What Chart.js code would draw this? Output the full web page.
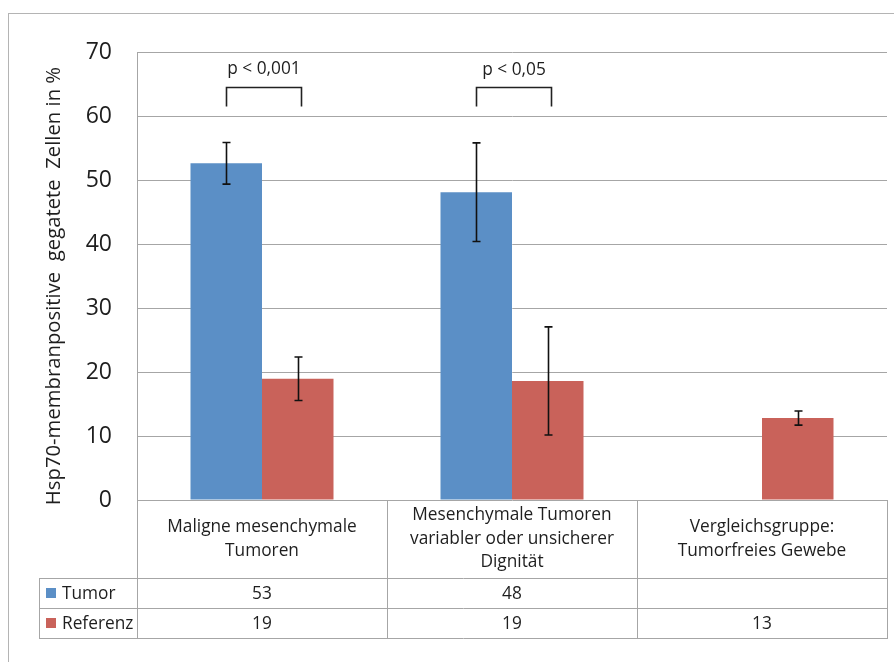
<!DOCTYPE html>
<html>
<head>
<meta charset="utf-8">
<script src="https://cdn.jsdelivr.net/npm/chart.js@4/dist/chart.umd.min.js"></script>
<style>
  html, body { margin: 0; padding: 0; background: #ffffff; }
  canvas { display: block; }
</style>
</head>
<body>
<canvas id="chart" width="894" height="662"></canvas>
<script>
// Categories (multi-line labels shown in the data table under the plot)
const categories = [
  ["Maligne mesenchymale", "Tumoren"],
  ["Mesenchymale Tumoren", "variabler oder unsicherer", "Dignität"],
  ["Vergleichsgruppe:", "Tumorfreies Gewebe"]
];

// Series: mean percentage of Hsp70 membrane-positive cells and their error margins
const tumorValues = [52.6, 48.1, null];
const tumorErrors = [3.25, 7.7, null];
const referenzValues = [18.95, 18.6, 12.8];
const referenzErrors = [3.4, 8.45, 1.1];

const seriesNames = ["Tumor", "Referenz"];
const yTicks = [0, 10, 20, 30, 40, 50, 60, 70];
const yTitle = "Hsp70-membranpositive  gegatete  Zellen in %";

// Significance brackets (between Tumor and Referenz of a category), in data units
const significance = [
  { category: 0, label: "p < 0,001", top: 64.5, foot: 61.5, text: 67.3 },
  { category: 1, label: "p < 0,05",  top: 64.5, foot: 61.5, text: 67.1 }
];

const FONT = "'Open Sans', sans-serif";
const TEXT_COLOR = "#1e1e1e";
const LINE_COLOR = "#a6a6a6";
const BLUE = "#5b8fc6";
const RED = "#c9625a";

// White page with the light grey chart frame
const framePlugin = {
  id: "frame",
  beforeDraw(chart) {
    const ctx = chart.ctx;
    ctx.save();
    ctx.fillStyle = "#ffffff";
    ctx.fillRect(0, 0, chart.width, chart.height);
    ctx.strokeStyle = "#b4b4b4";
    ctx.lineWidth = 1;
    ctx.strokeRect(8.5, 13.5, chart.width + 20, chart.height + 20);
    ctx.restore();
  }
};

// Error bars with caps, drawn at each bar centre
const errorBarPlugin = {
  id: "errorBars",
  afterDatasetsDraw(chart) {
    const ctx = chart.ctx;
    const y = chart.scales.y;
    const errs = [tumorErrors, referenzErrors];
    ctx.save();
    ctx.strokeStyle = "#111111";
    ctx.lineWidth = 1.6;
    chart.data.datasets.forEach((ds, i) => {
      const meta = chart.getDatasetMeta(i);
      ds.data.forEach((v, j) => {
        const e = errs[i][j];
        if (v == null || e == null) return;
        const x = Math.round(meta.data[j].x) + 0.5;
        const yt = y.getPixelForValue(v + e);
        const yb = y.getPixelForValue(v - e);
        ctx.beginPath();
        ctx.moveTo(x, yt); ctx.lineTo(x, yb);
        ctx.moveTo(x - 4, yt); ctx.lineTo(x + 4, yt);
        ctx.moveTo(x - 4, yb); ctx.lineTo(x + 4, yb);
        ctx.stroke();
      });
    });
    ctx.restore();
  }
};

// Significance brackets and their p-value labels
const bracketPlugin = {
  id: "brackets",
  afterDatasetsDraw(chart) {
    const ctx = chart.ctx;
    const y = chart.scales.y;
    const m0 = chart.getDatasetMeta(0);
    const m1 = chart.getDatasetMeta(1);
    ctx.save();
    ctx.strokeStyle = "#222222";
    ctx.lineWidth = 1.6;
    ctx.fillStyle = TEXT_COLOR;
    ctx.font = "17.3px " + FONT;
    ctx.textAlign = "center";
    ctx.textBaseline = "middle";
    significance.forEach(s => {
      const x1 = Math.round(m0.data[s.category].x) + 0.5;
      const x2 = Math.round(m1.data[s.category].x) + 3.5;
      const yt = Math.round(y.getPixelForValue(s.top)) + 0.5;
      const yf = y.getPixelForValue(s.foot);
      ctx.beginPath();
      ctx.moveTo(x1, yf); ctx.lineTo(x1, yt); ctx.lineTo(x2, yt); ctx.lineTo(x2, yf);
      ctx.stroke();
      ctx.fillText(s.label, (x1 + x2) / 2, y.getPixelForValue(s.text));
    });
    ctx.restore();
  }
};

// Rotated axis title and the data table below the plot
const tablePlugin = {
  id: "dataTable",
  afterDraw(chart) {
    const ctx = chart.ctx;
    const area = chart.chartArea;
    const n = categories.length;
    const colW = (area.right - area.left) / n;
    const top = area.bottom;
    const labelRowH = 78;
    const rowH = 30;
    const r1 = top + labelRowH;
    const r2 = r1 + rowH;
    const r3 = r2 + rowH;
    const tableLeft = 39;

    ctx.save();
    // axis title
    ctx.translate(54, 286);
    ctx.rotate(-Math.PI / 2);
    ctx.fillStyle = TEXT_COLOR;
    ctx.font = "20.3px " + FONT;
    ctx.textAlign = "center";
    ctx.textBaseline = "middle";
    ctx.fillText(yTitle, 0, 0);
    ctx.restore();

    ctx.save();
    ctx.strokeStyle = LINE_COLOR;
    ctx.lineWidth = 1;
    ctx.beginPath();
    for (let k = 0; k <= n; k++) {
      const x = Math.round(area.left + k * colW) + 0.5;
      ctx.moveTo(x, top); ctx.lineTo(x, r3);
    }
    ctx.moveTo(tableLeft + 0.5, r1); ctx.lineTo(tableLeft + 0.5, r3 + 0.5);
    [r1, r2, r3].forEach(r => {
      ctx.moveTo(tableLeft, Math.round(r) + 0.5);
      ctx.lineTo(Math.round(area.right) + 1, Math.round(r) + 0.5);
    });
    ctx.stroke();

    ctx.fillStyle = TEXT_COLOR;
    ctx.font = "17.3px " + FONT;
    ctx.textAlign = "center";
    ctx.textBaseline = "middle";
    const lh = 23.5;
    categories.forEach((lines, k) => {
      const cx = area.left + (k + 0.5) * colW;
      const cy = top + labelRowH / 2;
      lines.forEach((t, li) => {
        ctx.fillText(t, cx, cy + (li - (lines.length - 1) / 2) * lh);
      });
    });

    const seriesVals = [tumorValues, referenzValues];
    const colors = [BLUE, RED];
    [r1, r2].forEach((rt, s) => {
      const cy = rt + rowH / 2;
      ctx.fillStyle = colors[s];
      ctx.fillRect(tableLeft + 7, Math.round(cy) - 5, 10, 10);
      ctx.fillStyle = TEXT_COLOR;
      ctx.textAlign = "left";
      ctx.fillText(seriesNames[s], tableLeft + 23, cy + 1);
      ctx.textAlign = "center";
      seriesVals[s].forEach((v, k) => {
        if (v == null) return;
        ctx.fillText(String(Math.round(v)), area.left + (k + 0.5) * colW, cy + 1);
      });
    });
    ctx.restore();
  }
};

new Chart(document.getElementById("chart"), {
  type: "bar",
  data: {
    labels: categories.map(c => c.join(" ")),
    datasets: [
      { label: seriesNames[0], data: tumorValues, backgroundColor: BLUE },
      { label: seriesNames[1], data: referenzValues, backgroundColor: RED }
    ]
  },
  options: {
    responsive: false,
    devicePixelRatio: 1,
    animation: false,
    events: [],
    layout: { padding: { left: 0, top: 52, right: 7, bottom: 162 } },
    datasets: { bar: { categoryPercentage: 0.572, barPercentage: 1.0 } },
    plugins: { legend: { display: false }, tooltip: { enabled: false } },
    scales: {
      x: { display: false, grid: { display: false } },
      y: {
        min: 0, max: 70,
        afterBuildTicks(scale) { scale.ticks = yTicks.map(v => ({ value: v })); },
        afterFit(scale) { scale.width = 137; },
        grid: { color: LINE_COLOR, drawTicks: false, lineWidth: 1 },
        border: { display: true, color: LINE_COLOR },
        ticks: { padding: 25, color: TEXT_COLOR, font: { family: FONT, size: 23 } }
      }
    }
  },
  plugins: [framePlugin, errorBarPlugin, bracketPlugin, tablePlugin]
});
</script>
</body>
</html>
